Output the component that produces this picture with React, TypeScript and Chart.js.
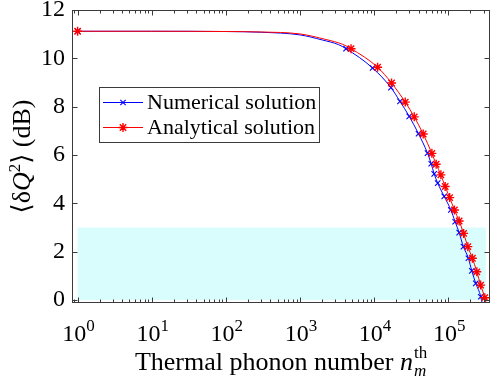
import React, { useEffect, useRef } from "react";
import { Chart, registerables } from "chart.js";

Chart.register(...registerables);

// ---------- data ----------
// Numerical solution (blue): curve-only points, marker points, tail beyond axes
const numLineX = [10, 100, 300, 1000, 2000, 3300];
const numLineY = [11.12, 11.11, 11.08, 10.97, 10.76, 10.57];
const numMarkX = [1, 4190, 9560, 16900, 22380, 29840, 39810, 52610, 59050, 64770, 72210, 88370, 108700, 124200, 140700, 160600, 187600, 208400, 235900, 275500];
const numMarkY = [11.12, 10.4, 9.6, 8.79, 8.22, 7.6, 6.88, 6.08, 5.64, 5.22, 4.84, 4.29, 3.73, 3.24, 2.79, 2.21, 1.73, 1.21, 0.69, 0.14];
const numTailX = [300000];
const numTailY = [-0.45];

// Analytical solution (red)
const anaLineX = [10, 100, 300, 1000, 2240, 3770];
const anaLineY = [11.12, 11.11, 11.09, 11.01, 10.78, 10.58];
const anaMarkX = [1, 4895, 11170, 17230, 26350, 34860, 46040, 60300, 68900, 79700, 91200, 104700, 121500, 140700, 161700, 184200, 212400, 243600, 274200, 312100];
const anaMarkY = [11.12, 10.4, 9.63, 8.98, 8.19, 7.58, 6.87, 6.07, 5.62, 5.18, 4.7, 4.24, 3.73, 3.27, 2.76, 2.21, 1.73, 1.17, 0.62, 0.1];
const anaTailX = [345000];
const anaTailY = [-0.5];

// shaded band (x range, y range)
const bandX = [1, 322000];
const bandY = [0, 3];

// axes
const xLimits = [0.84, 368000];
const yLimits = [-0.12, 12];
const xTickValues = [1, 10, 100, 1000, 10000, 100000];
const xTickBase = "10";
const xTickExponents = ["0", "1", "2", "3", "4", "5"];
const yTickValues = [0, 2, 4, 6, 8, 10, 12];

const seriesNames = ["Numerical solution", "Analytical solution"];

const SERIF = '"Liberation Serif", "DejaVu Serif", serif';

type Pt = { x: number; y: number; m: boolean };
function mergePts(lx: number[], ly: number[], mx: number[], my: number[], tx: number[], ty: number[]): Pt[] {
  const pts: Pt[] = [];
  lx.forEach((x, i) => pts.push({ x, y: ly[i], m: false }));
  mx.forEach((x, i) => pts.push({ x, y: my[i], m: true }));
  tx.forEach((x, i) => pts.push({ x, y: ty[i], m: false }));
  pts.sort((a, b) => a.x - b.x);
  return pts;
}

function drawMarker(ctx: CanvasRenderingContext2D, style: string, cx: number, cy: number, r: number) {
  ctx.beginPath();
  if (style === "star") {
    ctx.moveTo(cx - r, cy);
    ctx.lineTo(cx + r, cy);
    ctx.moveTo(cx, cy - r);
    ctx.lineTo(cx, cy + r);
  }
  const d = r * Math.SQRT1_2;
  ctx.moveTo(cx - d, cy - d);
  ctx.lineTo(cx + d, cy + d);
  ctx.moveTo(cx - d, cy + d);
  ctx.lineTo(cx + d, cy - d);
  ctx.stroke();
}

type Run = { t: string; font: string; dy?: number };
function runsWidth(ctx: CanvasRenderingContext2D, runs: Run[]) {
  let w = 0;
  for (const r of runs) {
    ctx.font = r.font;
    w += ctx.measureText(r.t).width;
  }
  return w;
}
function drawRuns(ctx: CanvasRenderingContext2D, runs: Run[], x: number, y: number) {
  let cx = x;
  for (const r of runs) {
    ctx.font = r.font;
    ctx.fillText(r.t, cx, y + (r.dy || 0));
    cx += ctx.measureText(r.t).width;
  }
  return cx;
}

const decor = {
  id: "decor",
  beforeDatasetsDraw(chart: any) {
    const { ctx, chartArea: a, scales } = chart;
    const xs = scales.x, ys = scales.y;
    ctx.save();
    ctx.beginPath();
    ctx.rect(a.left, a.top, a.right - a.left, a.bottom - a.top);
    ctx.clip();
    const x0 = xs.getPixelForValue(bandX[0]);
    const x1 = xs.getPixelForValue(bandX[1]);
    const y0 = ys.getPixelForValue(bandY[0]);
    const y1 = ys.getPixelForValue(bandY[1]);
    ctx.fillStyle = "rgb(217,253,253)";
    ctx.fillRect(x0, y1, x1 - x0, y0 - y1);
    ctx.restore();
  },
  afterDraw(chart: any) {
    const { ctx, chartArea: a, scales } = chart;
    const xs = scales.x, ys = scales.y;
    ctx.save();
    const L = Math.round(a.left) + 0.5, R = Math.round(a.right) - 0.5;
    const T = Math.round(a.top) + 0.5, B = Math.round(a.bottom) - 0.5;
    ctx.strokeStyle = "#3a3a3a";
    ctx.lineWidth = 1;
    ctx.strokeRect(L, T, R - L, B - T);
    // x ticks (major + minor), inward on top and bottom
    ctx.beginPath();
    for (let d = -1; d <= 6; d++) {
      for (let k = 1; k <= 9; k++) {
        const v = k * Math.pow(10, d);
        if (v < xLimits[0] || v > xLimits[1]) continue;
        const px = Math.round(xs.getPixelForValue(v)) + 0.5;
        const len = k === 1 ? 5 : 3;
        ctx.moveTo(px, B);
        ctx.lineTo(px, B - len);
        ctx.moveTo(px, T);
        ctx.lineTo(px, T + len);
      }
    }
    for (const v of yTickValues) {
      const py = Math.round(ys.getPixelForValue(v)) + 0.5;
      ctx.moveTo(L, py);
      ctx.lineTo(L + 5, py);
      ctx.moveTo(R, py);
      ctx.lineTo(R - 5, py);
    }
    ctx.stroke();

    // x tick labels: 10 with superscript exponent
    ctx.fillStyle = "#000";
    ctx.textBaseline = "alphabetic";
    ctx.textAlign = "left";
    const tickFont = `24px ${SERIF}`;
    const expFont = `17px ${SERIF}`;
    xTickValues.forEach((v, i) => {
      const runs: Run[] = [
        { t: xTickBase, font: tickFont },
        { t: xTickExponents[i], font: expFont, dy: -10 },
      ];
      const w = runsWidth(ctx, runs);
      const px = xs.getPixelForValue(v);
      drawRuns(ctx, runs, px - w / 2 + 1, 341);
    });

    // legend
    ctx.fillStyle = "#ffffff";
    ctx.fillRect(99, 87, 221, 56);
    ctx.strokeStyle = "#3a3a3a";
    ctx.strokeRect(99.5, 87.5, 220, 55);
    const rows = [
      { label: seriesNames[0], color: "#0000ff", style: "crossRot", y: 102.5, r: 3.8 },
      { label: seriesNames[1], color: "#ff0000", style: "star", y: 127.5, r: 4.5 },
    ];
    for (const row of rows) {
      ctx.strokeStyle = row.color;
      ctx.lineWidth = 1;
      ctx.beginPath();
      ctx.moveTo(103, row.y);
      ctx.lineTo(143, row.y);
      ctx.stroke();
      ctx.lineWidth = row.style === "star" ? 1.4 : 1.1;
      drawMarker(ctx, row.style, 123, row.y, row.r);
      ctx.fillStyle = "#000";
      ctx.font = `22px ${SERIF}`;
      ctx.textBaseline = "middle";
      ctx.textAlign = "left";
      ctx.fillText(row.label, 147, row.y + 1);
    }

    // x title
    ctx.fillStyle = "#000";
    ctx.textBaseline = "alphabetic";
    ctx.textAlign = "left";
    const base = `26px ${SERIF}`;
    const ital = `italic 26px ${SERIF}`;
    const small = `17px ${SERIF}`;
    const smallI = `italic 17px ${SERIF}`;
    const main: Run[] = [
      { t: "Thermal phonon number ", font: base },
      { t: "n", font: ital },
    ];
    ctx.font = small;
    const thW = ctx.measureText("th").width;
    const totalW = runsWidth(ctx, main) + thW + 1;
    const cxMid = (a.left + a.right) / 2;
    const xx = drawRuns(ctx, main, cxMid - totalW / 2, 370);
    ctx.font = small;
    ctx.fillText("th", xx + 1, 358);
    ctx.font = smallI;
    ctx.fillText("m", xx + 1, 376);

    // y title (rotated)
    ctx.translate(21, (a.top + a.bottom) / 2);
    ctx.rotate(-Math.PI / 2);
    const yRuns: Run[] = [
      { t: "⟨δ", font: base },
      { t: "Q", font: ital },
      { t: "2", font: small, dy: -10 },
      { t: "⟩ (dB)", font: base },
    ];
    const yw = runsWidth(ctx, yRuns);
    drawRuns(ctx, yRuns, -yw / 2, 9);
    ctx.restore();
  },
};

export default function App() {
  const ref = useRef<HTMLCanvasElement>(null);
  useEffect(() => {
    const canvas = ref.current!;
    const num = mergePts(numLineX, numLineY, numMarkX, numMarkY, numTailX, numTailY);
    const ana = mergePts(anaLineX, anaLineY, anaMarkX, anaMarkY, anaTailX, anaTailY);
    const chart = new Chart(canvas, {
      type: "line",
      data: {
        datasets: [
          {
            label: seriesNames[1],
            data: ana.map((p) => ({ x: p.x, y: p.y })),
            borderColor: "#ff0000",
            backgroundColor: "#ff0000",
            borderWidth: 1,
            pointStyle: "star",
            pointRadius: ana.map((p) => (p.m ? 4.5 : 0)),
            pointBorderWidth: 1.4,
            pointBorderColor: "#ff0000",
            pointHoverRadius: 0,
            cubicInterpolationMode: "monotone",
            order: 0,
          },
          {
            label: seriesNames[0],
            data: num.map((p) => ({ x: p.x, y: p.y })),
            borderColor: "#0000ff",
            backgroundColor: "#0000ff",
            borderWidth: 1,
            pointStyle: "crossRot",
            pointRadius: num.map((p) => (p.m ? 3.8 : 0)),
            pointBorderWidth: 1.1,
            pointBorderColor: "#0000ff",
            pointHoverRadius: 0,
            cubicInterpolationMode: "monotone",
            order: 1,
          },
        ],
      },
      options: {
        responsive: false,
        animation: false,
        events: [],
        layout: { padding: { top: 10, right: 1, left: 0, bottom: 0 } },
        plugins: { legend: { display: false }, tooltip: { enabled: false } },
        scales: {
          x: {
            type: "logarithmic",
            min: xLimits[0],
            max: xLimits[1],
            grid: { display: false, drawTicks: false },
            border: { display: false },
            afterBuildTicks: (s: any) => {
              s.ticks = xTickValues.map((v) => ({ value: v, major: true }));
            },
            afterFit: (s: any) => {
              s.height = 80;
              s.paddingLeft = 0;
              s.paddingRight = 0;
              s.paddingTop = 0;
              s.paddingBottom = 0;
            },
            ticks: { display: false },
          },
          y: {
            type: "linear",
            min: yLimits[0],
            max: yLimits[1],
            grid: { display: false, drawTicks: false },
            border: { display: false },
            afterBuildTicks: (s: any) => {
              s.ticks = yTickValues.map((v) => ({ value: v }));
            },
            afterFit: (s: any) => {
              s.width = 72;
              s.paddingLeft = 0;
              s.paddingRight = 0;
              s.paddingTop = 0;
              s.paddingBottom = 0;
            },
            ticks: {
              padding: 7,
              color: "#000",
              font: { family: SERIF, size: 24 },
              callback: (v: any) => String(v),
            },
          },
        },
      },
      plugins: [decor],
    } as any);
    return () => chart.destroy();
  }, []);
  return (
    <div
      style={{
        position: "fixed",
        left: 0,
        top: 0,
        width: 490,
        height: 383,
        overflow: "hidden",
        background: "#fff",
      }}
    >
      <canvas ref={ref} width={496} height={383} style={{ display: "block" }} />
    </div>
  );
}
